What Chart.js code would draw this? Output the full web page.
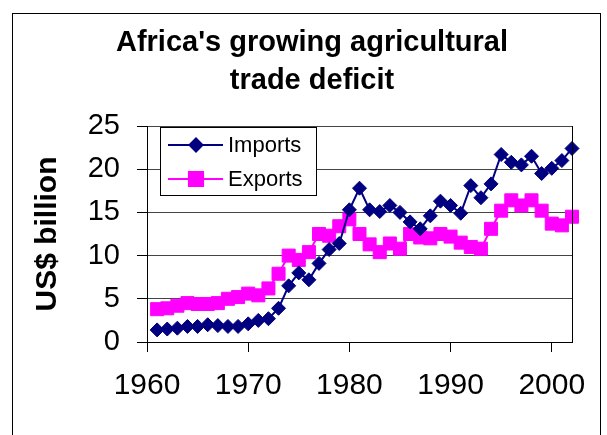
<!DOCTYPE html>
<html>
<head>
<meta charset="utf-8">
<script src="https://cdn.jsdelivr.net/npm/chart.js@4.4.1/dist/chart.umd.min.js"></script>
<style>
  body { margin: 0; background: #fff; }
  #wrap { width: 607px; height: 435px; }
</style>
</head>
<body>
<div id="wrap"><canvas id="myChart" width="607" height="435"></canvas></div>
<script>
const years = [1961, 1962, 1963, 1964, 1965, 1966, 1967, 1968, 1969, 1970,
  1971, 1972, 1973, 1974, 1975, 1976, 1977, 1978, 1979, 1980,
  1981, 1982, 1983, 1984, 1985, 1986, 1987, 1988, 1989, 1990,
  1991, 1992, 1993, 1994, 1995, 1996, 1997, 1998, 1999, 2000,
  2001, 2002];

const imports = [1.4, 1.5, 1.6, 1.8, 1.8, 2.0, 1.9, 1.8, 1.8, 2.1,
  2.5, 2.7, 3.9, 6.5, 8.0, 7.2, 9.1, 10.7, 11.4, 15.3,
  17.8, 15.3, 15.1, 15.8, 15.0, 13.9, 13.1, 14.6, 16.3, 15.8,
  14.9, 18.1, 16.7, 18.3, 21.7, 20.8, 20.5, 21.5, 19.5, 20.1,
  21.0, 22.4];

const exports = [3.8, 3.9, 4.2, 4.5, 4.4, 4.4, 4.5, 5.0, 5.2, 5.6,
  5.4, 6.2, 7.9, 10.0, 9.5, 10.4, 12.5, 12.3, 13.4, 14.2,
  12.5, 11.3, 10.4, 11.4, 10.8, 12.5, 12.1, 12.0, 12.5, 12.2,
  11.5, 11.0, 10.8, 13.1, 15.2, 16.4, 15.8, 16.4, 15.2, 13.7,
  13.5, 14.5];

const titleLines = ["Africa's growing agricultural", "trade deficit"];
const yTitle = 'US$ billion';

const fontFam = "'Liberation Sans', Arial, sans-serif";

function toPoints(vals) {
  return years.map((yr, i) => ({ x: yr, y: vals[i] }));
}

// outer frame, title, right plot border and boxed legend
const extras = {
  id: 'extras',
  afterDatasetsDraw(chart) {
    const ctx = chart.ctx;
    const a = chart.chartArea;
    ctx.save();

    ctx.strokeStyle = '#000';
    ctx.lineWidth = 1;
    ctx.beginPath();
    ctx.moveTo(a.right + 0.5, a.top);
    ctx.lineTo(a.right + 0.5, a.bottom);
    ctx.stroke();

    ctx.strokeRect(12.5, 13.5, 588, 500);

    ctx.fillStyle = '#000';
    ctx.font = 'bold 29px ' + fontFam;
    ctx.textAlign = 'center';
    ctx.textBaseline = 'alphabetic';
    ctx.fillText(titleLines[0], 312, 51);
    ctx.fillText(titleLines[1], 312, 89);

    // legend
    ctx.fillStyle = '#fff';
    ctx.fillRect(160.5, 127.5, 156, 68);
    ctx.strokeRect(160.5, 127.5, 156, 68);
    const rowsY = [145, 179];
    chart.data.datasets.forEach((ds, i) => {
      const y = rowsY[i];
      ctx.strokeStyle = ds.borderColor;
      ctx.lineWidth = 2;
      ctx.beginPath();
      ctx.moveTo(168, y);
      ctx.lineTo(223, y);
      ctx.stroke();
      Chart.helpers.drawPoint(ctx, {
        pointStyle: ds.pointStyle,
        radius: i === 0 ? 6.5 : 10,
        rotation: 0,
        borderWidth: 1
      }, 196, y);
      ctx.fillStyle = ds.backgroundColor;
      ctx.strokeStyle = ds.borderColor;
      ctx.lineWidth = 1;
      ctx.fill();
      ctx.stroke();
      ctx.fillStyle = '#000';
      ctx.font = '22px ' + fontFam;
      ctx.textAlign = 'left';
      ctx.textBaseline = 'middle';
      ctx.fillText(ds.label, 228, y + 1);
    });
    ctx.restore();
  }
};

const config = {
  type: 'line',
  data: {
    datasets: [
      {
        label: 'Imports',
        data: toPoints(imports),
        borderColor: '#000080',
        backgroundColor: '#000080',
        borderWidth: 2,
        pointStyle: 'rectRot',
        pointRadius: 7,
        pointBorderWidth: 1,
        order: 0
      },
      {
        label: 'Exports',
        data: toPoints(exports),
        borderColor: '#ff00ff',
        backgroundColor: '#ff00ff',
        borderWidth: 2,
        pointStyle: 'rect',
        pointRadius: 9.2,
        pointBorderWidth: 1,
        order: 1
      }
    ]
  },
  options: {
    responsive: false,
    animation: false,
    clip: false,
    layout: { padding: { top: 126, right: 35, left: 0, bottom: 0 } },
    plugins: {
      legend: { display: false },
      title: { display: false },
      tooltip: { enabled: false }
    },
    scales: {
      x: {
        type: 'linear',
        min: 1960,
        max: 2002,
        afterFit(scale) { scale.height = 93; },
        ticks: {
          stepSize: 10,
          includeBounds: false,
          color: '#000',
          padding: 16,
          font: { family: fontFam, size: 30 },
          callback: v => String(v)
        },
        grid: { drawOnChartArea: false, drawTicks: true, tickLength: 10, tickColor: '#000' },
        border: { color: '#000', width: 1 }
      },
      y: {
        min: 0,
        max: 25,
        afterFit(scale) { scale.width = 147; },
        ticks: {
          stepSize: 5,
          color: '#000',
          padding: 17,
          font: { family: fontFam, size: 29 }
        },
        grid: { color: '#444', tickLength: 10, tickColor: '#000' },
        border: { color: '#000', width: 1 },
        title: {
          display: true,
          text: yTitle,
          color: '#000',
          padding: { top: 30, bottom: 0 },
          font: { family: fontFam, size: 30, weight: 'bold' }
        }
      }
    }
  },
  plugins: [extras]
};

new Chart(document.getElementById('myChart'), config);
</script>
</body>
</html>
